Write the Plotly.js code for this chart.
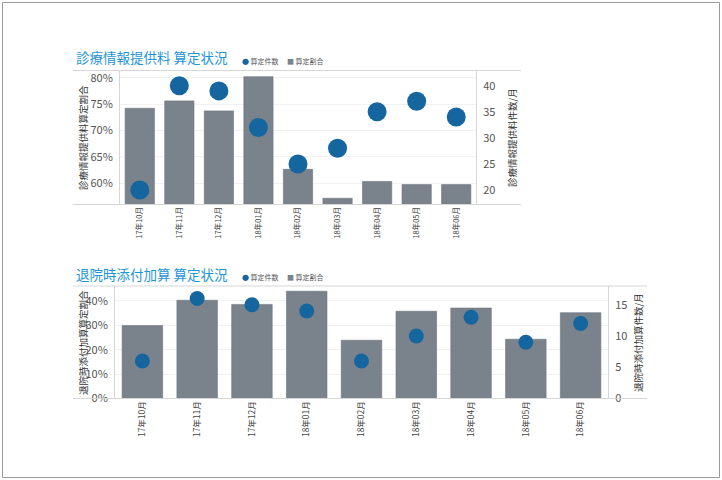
<!DOCTYPE html>
<html>
<head>
<meta charset="utf-8">
<script src="https://cdn.plot.ly/plotly-3.0.1.min.js"></script>
<style>html,body{margin:0;padding:0;background:#fff;}#chart{width:722px;height:480px;}</style>
</head>
<body>
<div id="chart"></div>
<script>
// ---- data ----
const months = ['17年10月','17年11月','17年12月','18年01月','18年02月','18年03月','18年04月','18年05月','18年06月'];
// 診療情報提供料
const infoRate = [74.2, 75.6, 73.7, 80.2, 62.6, 57.1, 60.3, 59.7, 59.7];   // 算定割合 (%)
const infoCount = [20, 40, 39, 32, 25, 28, 35, 37, 34];                    // 算定件数
// 退院時添付加算
const dischRate = [29.9, 40.3, 38.6, 44.0, 23.9, 35.8, 37.1, 24.3, 35.2];  // 算定割合 (%)
const dischCount = [6, 16, 15, 14, 6, 10, 13, 9, 12];                       // 算定件数
const infoRateTicks = [60, 65, 70, 75, 80];
const infoCountTicks = [20, 25, 30, 35, 40];
const dischRateTicks = [0, 10, 20, 30, 40];
const dischCountTicks = [0, 5, 10, 15];

const W = 722, H = 480;
const px = v => v / W;
const py = v => (H - v) / H;
const FONT = '"Noto Sans CJK JP", "Noto Sans", sans-serif';
const barColor = '#7a828c';
const dotColor = '#15669f';
const titleColor = '#1f96d4';
const lineColor = '#d6d6d6';
const tickColor = '#555555';

const traces = [
  {type:'bar', x:months, y:infoRate, xaxis:'x', yaxis:'y', marker:{color:barColor, line:{color:'#6c747e', width:0.6}}},
  {type:'scatter', mode:'markers', x:months, y:infoCount, xaxis:'x', yaxis:'y2', marker:{color:dotColor, size:19}},
  {type:'bar', x:months, y:dischRate, xaxis:'x2', yaxis:'y3', marker:{color:barColor, line:{color:'#6c747e', width:0.6}}},
  {type:'scatter', mode:'markers', x:months, y:dischCount, xaxis:'x2', yaxis:'y4', marker:{color:dotColor, size:15}}
];

const yBase = {
  zeroline:false, showgrid:true, gridcolor:'#f1f1f1', gridwidth:1,
  showline:true, linecolor:lineColor, linewidth:1,
  ticks:'outside', ticklen:4, tickcolor:'rgba(0,0,0,0)',
  tickfont:{family:FONT, size:11, color:tickColor}, fixedrange:true
};
const xBase = {
  type:'category', range:[-0.5, 8.5], showline:false, showgrid:false, zeroline:false,
  tickangle:-90, ticks:'', fixedrange:true
};

const layout = {
  width:W, height:H, margin:{l:0, r:0, t:0, b:0},
  paper_bgcolor:'#ffffff', plot_bgcolor:'rgba(0,0,0,0)',
  showlegend:false, bargap:0.26,
  font:{family:FONT, color:tickColor},
  xaxis: Object.assign({}, xBase, {domain:[px(120), px(476)], anchor:'y', tickfont:{family:FONT, size:7.5, color:'#444'}}),
  yaxis: Object.assign({}, yBase, {domain:[py(204.5), py(70.5)], anchor:'x', range:[55.92, 81.37],
          tickvals:infoRateTicks, ticktext:infoRateTicks.map(v => v + '%')}),
  yaxis2: Object.assign({}, yBase, {overlaying:'y', side:'right', anchor:'x', showgrid:false, range:[17.22, 42.91],
          tickvals:infoCountTicks, ticktext:infoCountTicks.map(String)}),
  xaxis2: Object.assign({}, xBase, {domain:[px(115), px(608)], anchor:'y3', tickfont:{family:FONT, size:8.5, color:'#444'}}),
  yaxis3: Object.assign({}, yBase, {domain:[py(398.5), py(286)], anchor:'x2', range:[0, 46.15],
          tickvals:dischRateTicks, ticktext:dischRateTicks.map(v => v + '%')}),
  yaxis4: Object.assign({}, yBase, {overlaying:'y3', side:'right', anchor:'x2', showgrid:false, range:[0, 18],
          tickvals:dischCountTicks, ticktext:dischCountTicks.map(String)}),
  shapes:[
    {type:'rect', xref:'paper', yref:'paper', x0:px(2.5), x1:px(719.5), y0:py(477.5), y1:py(2.5), line:{color:'#9a9a9a', width:1}},
    {type:'line', xref:'paper', yref:'paper', x0:px(73), x1:px(521), y0:py(70.5), y1:py(70.5), line:{color:lineColor, width:1}},
    {type:'line', xref:'paper', yref:'paper', x0:px(73), x1:px(521), y0:py(204.5), y1:py(204.5), line:{color:lineColor, width:1}},
    {type:'line', xref:'paper', yref:'paper', x0:px(73), x1:px(647), y0:py(286), y1:py(286), line:{color:lineColor, width:1}},
    {type:'line', xref:'paper', yref:'paper', x0:px(73), x1:px(647), y0:py(398.5), y1:py(398.5), line:{color:lineColor, width:1}}
  ],
  annotations:[
    {xref:'paper', yref:'paper', x:px(74), y:py(57.5), xanchor:'left', yanchor:'middle', showarrow:false,
     text:'診療情報提供料 算定状況', font:{family:FONT, size:13.5, color:titleColor}},
    {xref:'paper', yref:'paper', x:px(74), y:py(273.5), xanchor:'left', yanchor:'middle', showarrow:false,
     text:'退院時添付加算 算定状況', font:{family:FONT, size:13.5, color:titleColor}},
    // legends
    {xref:'paper', yref:'paper', x:px(240), y:py(60.5), xanchor:'left', yanchor:'middle', showarrow:false,
     text:'<span style="color:'+dotColor+'">●</span> 算定件数', font:{family:FONT, size:7, color:'#555'}},
    {xref:'paper', yref:'paper', x:px(285), y:py(60.5), xanchor:'left', yanchor:'middle', showarrow:false,
     text:'<span style="color:'+barColor+'">■</span> 算定割合', font:{family:FONT, size:7, color:'#555'}},
    {xref:'paper', yref:'paper', x:px(240), y:py(276.5), xanchor:'left', yanchor:'middle', showarrow:false,
     text:'<span style="color:'+dotColor+'">●</span> 算定件数', font:{family:FONT, size:7, color:'#555'}},
    {xref:'paper', yref:'paper', x:px(285), y:py(276.5), xanchor:'left', yanchor:'middle', showarrow:false,
     text:'<span style="color:'+barColor+'">■</span> 算定割合', font:{family:FONT, size:7, color:'#555'}},
    // axis titles
    {xref:'paper', yref:'paper', x:px(83), y:py(138), xanchor:'center', yanchor:'middle', showarrow:false, textangle:-90,
     text:'診療情報提供料算定割合', font:{family:FONT, size:9.5, color:'#333'}},
    {xref:'paper', yref:'paper', x:px(512), y:py(138), xanchor:'center', yanchor:'middle', showarrow:false, textangle:-90,
     text:'診療情報提供料件数/月', font:{family:FONT, size:9.5, color:'#333'}},
    {xref:'paper', yref:'paper', x:px(83), y:py(343), xanchor:'center', yanchor:'middle', showarrow:false, textangle:-90,
     text:'退院時添付加算算定割合', font:{family:FONT, size:9.5, color:'#333'}},
    {xref:'paper', yref:'paper', x:px(638), y:py(343), xanchor:'center', yanchor:'middle', showarrow:false, textangle:-90,
     text:'退院時添付加算件数/月', font:{family:FONT, size:9.5, color:'#333'}}
  ]
};

Plotly.newPlot('chart', traces, layout, {displayModeBar:false, staticPlot:true});
</script>
</body>
</html>
